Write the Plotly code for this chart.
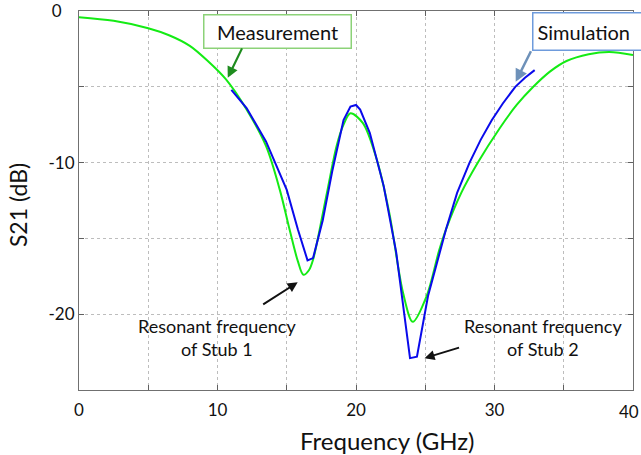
import plotly.graph_objects as go

# Measurement (green) curve
meas_f = [0, 2.5, 5, 6.5, 8, 9.3, 10.6, 12.1, 13.5, 14.5, 15.2, 15.8, 16.2, 16.6, 16.9,
          17.9, 18.6, 19.1, 19.6, 20.5, 21.5, 22.4, 23.4, 24.1, 25.1, 26.0, 26.5, 27.6,
          28.8, 30.4, 31.6, 32.8, 34.0, 35.2, 36.8, 38.3, 40]
meas_db = [-0.41, -0.65, -1.14, -1.6, -2.3, -3.3, -4.5, -6.5, -8.9, -11.8, -14.4, -16.5, -17.4,
           -17.1, -16.4, -12.0, -8.9, -7.5, -6.75, -7.4, -9.8, -13.3, -18.6, -20.5, -18.8,
           -15.8, -14.4, -12.0, -10.0, -7.7, -6.2, -5.0, -4.0, -3.3, -2.85, -2.7, -2.9]

# Simulation (blue) curve
sim_f = [11.0, 12.1, 13.5, 15.0, 15.8, 16.5, 16.9, 17.6, 18.3, 19.1, 19.6, 20.0, 20.3, 21.0,
         22.0, 22.9, 23.9, 24.4, 25.2, 26.0, 26.5, 27.3, 28.2, 29.0, 29.8, 30.6, 31.5, 32.2, 32.9]
sim_db = [-5.2, -6.4, -8.6, -11.8, -14.4, -16.45, -16.3, -13.8, -10.5, -7.2, -6.3, -6.2, -6.5,
          -8.05, -11.55, -15.9, -22.9, -22.8, -18.8, -16.0, -14.4, -12.0, -10.0, -8.5, -7.2,
          -6.1, -5.0, -4.4, -3.9]

NB = "\u00a0"
x_ticks = [0, 10, 20, 30, 40]
x_labels = ["0", "10", "20", "30", "40"]
y_ticks = [0, -10, -20]
y_labels = ["0" + NB * 3, "-10", "-20"]

FONT = "Lato"

fig = go.Figure()
fig.add_trace(go.Scatter(x=meas_f, y=meas_db, mode="lines", name="Measurement",
                         line=dict(color="rgb(20,235,20)", width=2, shape="spline", smoothing=0.9)))
fig.add_trace(go.Scatter(x=sim_f, y=sim_db, mode="lines", name="Simulation",
                         line=dict(color="rgb(10,10,235)", width=2)))

axis_common = dict(
    showline=True, linecolor="#707070", linewidth=1, mirror="ticks",
    ticks="inside", ticklen=5, tickcolor="#606060", tickwidth=1,
    showgrid=True, gridcolor="#bdbdbd", griddash="dot", gridwidth=1,
    zeroline=False, ticklabeloverflow="allow", automargin=False,
    tickfont=dict(family=FONT, size=17, color="#111"),
)

# last x tick label is placed just inside the page edge (as in the original)
fig.update_xaxes(range=[0, 40], tickvals=x_ticks, ticktext=x_labels[:-1] + [""], ticklabelstandoff=5,
                 minor=dict(dtick=5, tick0=0, showgrid=True, gridcolor="#bdbdbd", griddash="dot",
                            ticks="inside", ticklen=5, tickcolor="#606060"),
                 **axis_common)
fig.update_yaxes(range=[-25, 0], tickvals=y_ticks, ticktext=y_labels,
                 minor=dict(dtick=5, tick0=0, showgrid=True, gridcolor="#bdbdbd", griddash="dot",
                            ticks="inside", ticklen=5, tickcolor="#606060"),
                 **axis_common)

annotations = [
    dict(text=x_labels[-1], xref="paper", yref="paper", x=1.0, y=-0.025, xshift=-4,
         showarrow=False, font=dict(family=FONT, size=17, color="#111"),
         xanchor="center", yanchor="top"),
    dict(text="Frequency (GHz)", xref="paper", yref="paper", x=0.556, y=-0.132,
         showarrow=False, font=dict(family=FONT, size=24, color="#111"),
         xanchor="center", yanchor="middle"),
    dict(text="S21 (dB)", xref="paper", yref="paper", x=-0.11, y=0.488, textangle=-90,
         showarrow=False, font=dict(family=FONT, size=23, color="#111"),
         xanchor="center", yanchor="middle"),
    dict(text="Measurement", xref="paper", yref="paper", x=0.359, y=0.946,
         showarrow=False, font=dict(family=FONT, size=20, color="#111"),
         bgcolor="white", bordercolor="rgb(140,210,120)", borderwidth=1.5,
         width=144, height=30, xanchor="center", yanchor="middle"),
    dict(text="Simulation", xref="paper", yref="paper", x=(532 - 79) / 554, y=0.945,
         showarrow=False, font=dict(family=FONT, size=20, color="#111"), align="left",
         bgcolor="white", bordercolor="rgb(110,155,220)", borderwidth=1.5, borderpad=4,
         width=116, height=28, xanchor="left", yanchor="middle"),
    dict(text="Resonant frequency<br>of Stub 1", xref="paper", yref="paper", x=0.249, y=0.1385,
         showarrow=False, font=dict(family=FONT, size=18, color="#111"),
         xanchor="center", yanchor="middle"),
    dict(text="Resonant frequency<br>of Stub 2", xref="paper", yref="paper", x=0.8375, y=0.1385,
         showarrow=False, font=dict(family=FONT, size=18, color="#111"),
         xanchor="center", yanchor="middle"),
    # arrows
    dict(text="", x=10.74, y=-4.41, xref="x", yref="y", ax=15, ay=-31,
         showarrow=True, arrowhead=2, arrowsize=1, arrowwidth=2.2, arrowcolor="rgb(30,140,30)"),
    dict(text="", x=31.53, y=-4.67, xref="x", yref="y", ax=16, ay=-32,
         showarrow=True, arrowhead=2, arrowsize=1, arrowwidth=2.5, arrowcolor="rgb(110,145,185)"),
    dict(text="", x=15.79, y=-17.9, xref="x", yref="y", ax=-36, ay=23,
         showarrow=True, arrowhead=2, arrowsize=1, arrowwidth=2, arrowcolor="#111"),
    dict(text="", x=24.95, y=-22.9, xref="x", yref="y", ax=36, ay=-11,
         showarrow=True, arrowhead=2, arrowsize=1, arrowwidth=2, arrowcolor="#111"),
]

fig.update_layout(
    width=641, height=455,
    margin=dict(l=79, r=8, t=11, b=65, autoexpand=False),
    paper_bgcolor="white", plot_bgcolor="white",
    showlegend=False,
    annotations=annotations,
    font=dict(family=FONT),
)

fig.write_html("out.html", config={"displayModeBar": False},
               post_script="document.body.style.margin='0px';document.body.style.padding='0px';")
